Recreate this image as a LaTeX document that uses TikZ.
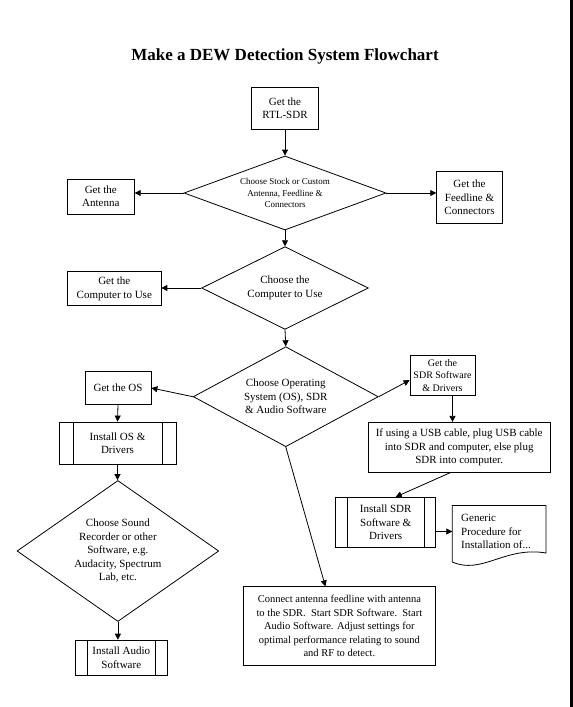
\documentclass[tikz,border=0pt]{standalone}
\usepackage{fontspec}
\setmainfont{Liberation Serif}
\usetikzlibrary{shapes.geometric,arrows.meta}

\begin{document}
\begin{tikzpicture}[x=1pt,y=-1pt,
    font=\fontsize{11}{13.5}\selectfont,
    every node/.style={align=center, inner sep=0pt},
    box/.style 2 args={draw, line width=0.8pt, minimum width=#1, minimum height=#2},
    choice/.style n args={3}{draw, diamond, aspect=#3, line width=0.8pt, minimum width=#1, minimum height=#2},
    subproc/.style={path picture={
        \draw[line width=0.8pt] ([xshift=#1]path picture bounding box.north west) -- ([xshift=#1]path picture bounding box.south west)
          ([xshift=-#1]path picture bounding box.north east) -- ([xshift=-#1]path picture bounding box.south east);}},
    subproc/.default=11.5pt,
    arr/.style={draw, line width=0.8pt, -{Triangle[length=6pt,width=6pt]}}]
    \useasboundingbox (0,0) rectangle (573,707);
    \fill (570,0) rectangle (573,707);

    \node[font=\fontsize{17}{20}\bfseries, anchor=base] (title) at (285,60.7) {Make a DEW Detection System Flowchart};

    % top of the chart
    \node[box={67.5}{42}] (rtl) at (285,108.3) {Get the\\RTL-SDR};
    \node[choice={202}{74}{2.73}, font=\fontsize{9}{11.5}\selectfont] (stock) at (285,193) {Choose Stock or Custom\\Antenna, Feedline \&\\Connectors};
    \node[box={67}{35}] (ant) at (100.8,196.4) {Get the\\Antenna};
    \node[box={65.6}{52}] (feed) at (469.5,197.3) {Get the\\Feedline \&\\Connectors};
    \node[choice={166.7}{82.7}{2.02}] (pc) at (285,288) {Choose the\\Computer to Use};
    \node[box={93.3}{34}] (getpc) at (114.3,288.7) {Get the\\Computer to Use};
    \node[choice={185}{100}{1.85}] (os) at (285.8,396.7) {Choose Operating\\System (OS), SDR\\\& Audio Software};

    % left branch
    \node[box={66}{32.6}] (getos) at (118,388) {Get the OS};
    \node[box={117}{42}, subproc=14pt] (instos) at (117.5,443) {Install OS \&\\Drivers};
    \node[choice={201.7}{141}{1.43}] (sound) at (117.9,551) {Choose Sound\\Recorder or other\\Software, e.g.\\Audacity, Spectrum\\Lab, etc.};
    \node[box={91.5}{35.4}, subproc] (audio) at (121.3,657.8) {Install Audio\\Software};

    % right branch
    \node[box={65}{40.3}, font=\fontsize{10}{12.5}\selectfont] (sdr) at (442.5,375.2) {Get the\\SDR Software\\\& Drivers};
    \node[box={181.7}{50}] (usb) at (459.2,447.3) {If using a USB cable, plug USB cable\\into SDR and computer, else plug\\SDR into computer.};
    \node[box={100}{50}, subproc] (instsdr) at (385.7,522.3) {Install SDR\\Software \&\\Drivers};
    \node[align=left, anchor=west] (doc) at (461,531.5) {Generic\\Procedure for\\Installation of...};
    \draw[line width=0.8pt] (452.3,505.5) -- (546,505.5) -- (546,553)
      .. controls (505,546) and (482,575) .. (452.3,562) -- cycle;
    \node[box={192.2}{78.9}, font=\fontsize{10.5}{13.5}\selectfont] (conn) at (339.4,626.2) {Connect antenna feedline with antenna\\to the SDR.\ \ Start SDR Software.\ \ Start\\Audio Software. Adjust settings for\\optimal performance relating to sound\\and RF to detect.};

    \path[arr] (rtl.south) -- (stock.north);
    \path[arr] (stock.west) -- (ant.east |- stock.west);
    \path[arr] (stock.east) -- (feed.west |- stock.east);
    \path[arr] (stock.south) -- (pc.north);
    \path[arr] (pc.west) -- (getpc.east |- pc.west);
    \path[arr] (pc.south) -- (os.north);
    \path[arr] (os.west) -- (getos.east);
    \path[arr] (os.east) -- ([yshift=-5pt]sdr.west);
    \path[arr] (getos.south) -- (instos.north);
    \path[arr] (instos.south) -- (instos.south |- sound.north);
    \path[arr] (sound.south) -- (sound.south |- audio.north);
    \path[arr] ([xshift=10pt]sdr.south) -- ([xshift=10pt]sdr.south |- usb.north);
    \path[arr] ([xshift=-9pt]usb.south) -- ([xshift=10pt]instsdr.north);
    \path[arr] (instsdr.east |- doc.west) -- (452.3,531.5);
    \path[arr] (os.south) -- ([xshift=-14pt]conn.north);
\end{tikzpicture}
\end{document}
